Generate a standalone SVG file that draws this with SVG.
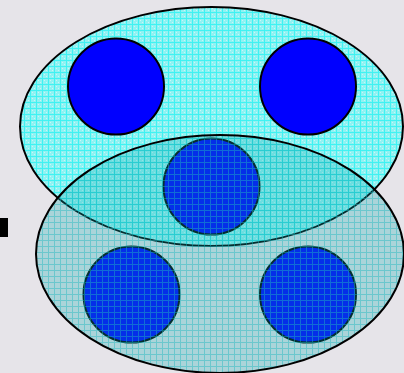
<svg xmlns="http://www.w3.org/2000/svg" width="404" height="373" viewBox="0 0 404 373">
<defs>
<pattern id="pTop" width="6" height="6" patternUnits="userSpaceOnUse">
<rect width="6" height="6" fill="#90f2f2"/>
<rect x="2" y="2" width="1" height="1" fill="#c8f6f6"/>
<rect x="4" y="4" width="1" height="1" fill="#c8f6f6"/>
<rect x="0" y="0" width="6" height="1" fill="#40f2f2"/>
<rect x="0" y="0" width="1" height="6" fill="#40f2f2"/>
</pattern>
<pattern id="pBot" width="6" height="6" patternUnits="userSpaceOnUse">
<rect width="6" height="6" fill="#10a8b0" fill-opacity="0.28"/>
<rect x="0" y="0" width="6" height="1" fill="#20b8c0" fill-opacity="0.45"/>
<rect x="0" y="1" width="1" height="5" fill="#20b8c0" fill-opacity="0.45"/>
</pattern>
<style>
.ell{stroke:#000;stroke-width:2}
.blue{fill:#0000ff;stroke:#000;stroke-width:2}
</style>
</defs>
<rect width="404" height="373" fill="#e6e4e9"/>
<rect x="0" y="218" width="8" height="19" fill="#000"/>
<g id="setA">
<ellipse class="ell" cx="211.5" cy="126.5" rx="191.5" ry="119.5" fill="url(#pTop)"/>
</g>
<g id="c1"><circle class="blue" cx="116" cy="86.5" r="48"/></g>
<g id="c2"><circle class="blue" cx="308" cy="86.5" r="48"/></g>
<g id="c3"><circle class="blue" cx="211.5" cy="186.5" r="48"/></g>
<g id="c4"><circle class="blue" cx="131.5" cy="294.5" r="48"/></g>
<g id="c5"><circle class="blue" cx="308" cy="294.5" r="48"/></g>
<g id="setB">
<ellipse class="ell" cx="220" cy="254" rx="184" ry="119" fill="url(#pBot)"/>
</g>
<g id="connectors"/>
</svg>
